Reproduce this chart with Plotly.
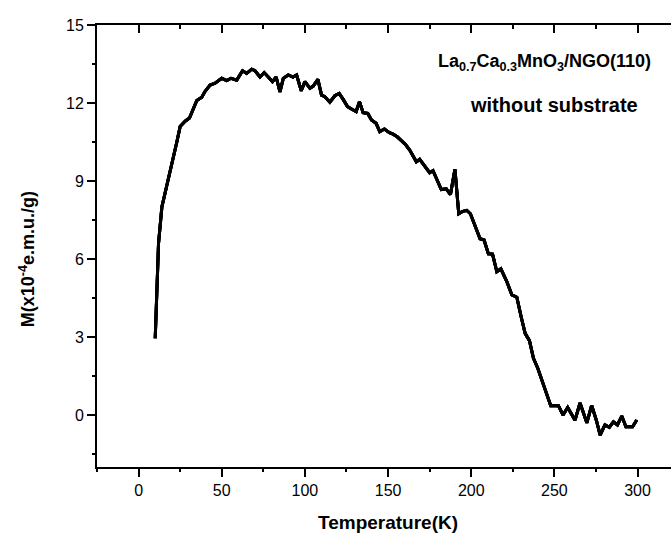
import plotly.graph_objects as go

temperature = [10, 12, 14, 17, 20, 23, 25, 28, 30.6, 33, 35, 38, 40, 43, 46, 50, 53, 55.6, 59,
               62.5, 65, 68, 70, 73, 75.5, 78, 80.5, 82.7, 85, 87, 90, 92.8, 95, 97.8, 100,
               103, 105, 107.8, 110, 112, 115, 118, 120.6, 123, 125.6, 128, 130.8, 132.8, 135,
               137.8, 140, 142.8, 145, 147.8, 150.8, 153, 155.5, 158, 160.5, 163, 167, 169,
               172, 175, 177, 179.7, 182, 185, 187.5, 190.2, 192.5, 194.5, 197.3, 199.5, 202.3,
               205.3, 207.7, 210.3, 212.8, 215.4, 217.8, 221.4, 224.4, 227.4, 230, 232.4, 235,
               237.4, 240, 243, 245.4, 247.8, 252.4, 255.2, 258, 262.4, 265.4, 269.5, 272.4,
               275.3, 277.5, 280.4, 283, 285.5, 287.9, 290.5, 293, 297, 299.5]
magnetization = [2.95, 6.6, 8.0, 8.8, 9.6, 10.5, 11.1, 11.3, 11.42, 11.8, 12.1, 12.22, 12.45,
                 12.69, 12.76, 12.95, 12.86, 12.95, 12.88, 13.24, 13.14, 13.3, 13.24, 13.0,
                 13.17, 13.0, 12.82, 13.0, 12.43, 12.95, 13.08, 13.0, 13.08, 12.47, 12.82,
                 12.57, 12.65, 12.91, 12.3, 12.24, 12.03, 12.28, 12.37, 12.14, 11.86, 11.77,
                 11.67, 12.05, 11.63, 11.6, 11.35, 11.22, 10.9, 11.0, 10.86, 10.8, 10.7,
                 10.55, 10.4, 10.19, 9.74, 9.83, 9.55, 9.32, 9.4, 9.04, 8.67, 8.7, 8.48,
                 9.45, 7.74, 7.82, 7.87, 7.74, 7.27, 6.78, 6.73, 6.2, 6.19, 5.51, 5.62, 5.13,
                 4.62, 4.53, 3.78, 3.14, 2.86, 2.18, 1.8, 1.22, 0.83, 0.36, 0.36, 0.0, 0.29,
                 -0.2, 0.46, -0.3, 0.37, -0.22, -0.77, -0.38, -0.47, -0.26, -0.38, -0.04,
                 -0.45, -0.45, -0.19]

x_ticks = [0, 50, 100, 150, 200, 250, 300]
x_minor_ticks = [-25, 25, 75, 125, 175, 225, 275]
y_ticks = [0, 3, 6, 9, 12, 15]
y_minor_ticks = [-1.5, 1.5, 4.5, 7.5, 10.5, 13.5]
x_range = [-25, 320.1]
y_range = [-2, 15]

FONT = "Liberation Sans, Arial, sans-serif"

fig = go.Figure()
fig.add_trace(go.Scatter(x=temperature, y=magnetization, mode="lines",
                         line=dict(color="black", width=3), showlegend=False))
# the same curve is bound to the helper tick axes so that plotly draws them
for xa, ya in (("x2", "y"), ("x3", "y2"), ("x4", "y")):
    fig.add_trace(go.Scatter(x=temperature, y=magnetization, mode="lines",
                             xaxis=xa, yaxis=ya, line=dict(color="black", width=3),
                             showlegend=False, hoverinfo="skip"))

base = dict(showgrid=False, zeroline=False, tickcolor="black", tickwidth=2)
helper = dict(showticklabels=False, showline=False, **base)

fig.update_layout(
    width=671, height=534,
    margin=dict(l=97, r=0, t=25, b=67),
    paper_bgcolor="white", plot_bgcolor="white",
    font=dict(family=FONT, color="black", size=16),
    xaxis=dict(range=x_range, tickvals=x_ticks, ticks="outside", ticklen=8,
               showline=True, linecolor="black", linewidth=2,
               tickfont=dict(size=16), **base),
    yaxis=dict(range=y_range, tickvals=y_ticks, ticks="outside", ticklen=8,
               showline=True, linecolor="black", linewidth=2,
               tickfont=dict(size=16), **base),
    # top edge: major inward ticks + frame line
    xaxis2=dict(range=x_range, tickvals=x_ticks, ticks="inside", ticklen=8,
                overlaying="x", side="top", anchor="y",
                showticklabels=False, showline=True, linecolor="black", linewidth=2,
                **base),
    # bottom minor ticks
    xaxis3=dict(range=x_range, tickvals=x_minor_ticks, ticks="outside", ticklen=4,
                overlaying="x", side="bottom", anchor="y2", **helper),
    # top minor ticks
    xaxis4=dict(range=x_range, tickvals=x_minor_ticks, ticks="inside", ticklen=4,
                overlaying="x", side="top", anchor="y", **helper),
    # left minor ticks
    yaxis2=dict(range=y_range, tickvals=y_minor_ticks, ticks="outside", ticklen=4,
                overlaying="y", side="left", anchor="x3", **helper),
)

annotations = [
    dict(text="<b>Temperature(K)</b>", x=0.507, y=-0.125, xref="paper", yref="paper",
         showarrow=False, font=dict(size=19, family=FONT), xanchor="center", yanchor="middle"),
    dict(text="<b>M(x10<sup>-4</sup>e.m.u./g)</b>", x=-0.122, y=0.47, xref="paper",
         yref="paper", showarrow=False, textangle=-90,
         font=dict(size=18, family=FONT), xanchor="center", yanchor="middle"),
    dict(text="<b>La<sub>0.7</sub>Ca<sub>0.3</sub>MnO<sub>3</sub>/NGO(110)</b>",
         x=0.78, y=0.915, xref="paper", yref="paper", showarrow=False,
         font=dict(size=18, family=FONT), xanchor="center", yanchor="middle"),
    dict(text="<b>without substrate</b>", x=0.797, y=0.82, xref="paper", yref="paper",
         showarrow=False, font=dict(size=20, family=FONT), xanchor="center", yanchor="middle"),
]
fig.update_layout(annotations=annotations)

fig.write_html("out.html")
